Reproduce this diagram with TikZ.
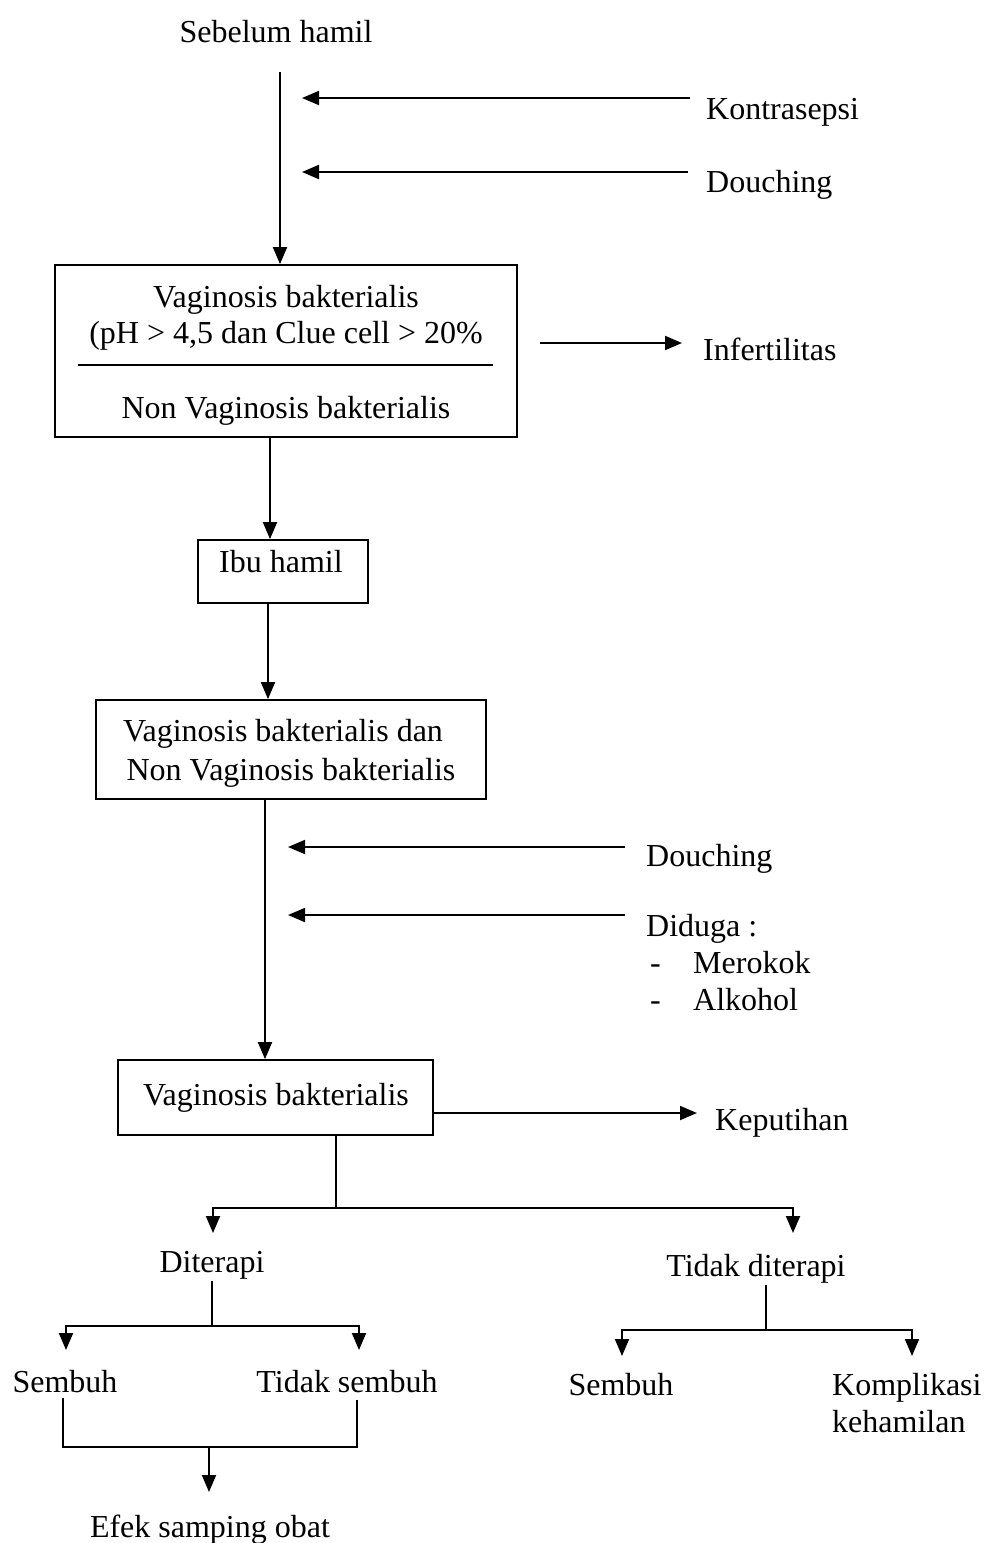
\documentclass[tikz,border=0pt]{standalone}
\usepackage{fontspec}
\setmainfont{Liberation Serif}
\usetikzlibrary{arrows.meta,calc}
\begin{document}
\begin{tikzpicture}[x=1pt,y=-1pt,
  txt/.style={font=\fontsize{32}{38}\selectfont, inner sep=0pt, anchor=base},
  ltxt/.style={txt, anchor=base west},
  box/.style={draw, line width=1.8pt, inner sep=0pt},
  ln/.style={line width=1.9pt},
  arr/.style={ln, -{Triangle[length=17pt,width=14pt]}}]
\useasboundingbox (0,0) rectangle (988,1543);
% top
\node[txt] (sh) at (276,42) {Sebelum hamil};
\coordinate (t0) at (280,72);
\node[ltxt] (kon) at (706,119) {Kontrasepsi};
\node[ltxt] (dou1) at (706,192) {Douching};
\coordinate (k0) at (690,98);
\coordinate (k1) at (302,98);
\coordinate (d0) at (688,172);
\coordinate (d1) at (302,172);
\draw[arr] (k0) -- (k1);
\draw[arr] (d0) -- (d1);
% box 1
\node[box, minimum width=462pt, minimum height=172pt] (b1) at (286,351) {};
\node[txt] (b1a) at (286,307) {Vaginosis bakterialis};
\node[txt] (b1b) at (286,343) {(pH > 4,5 dan Clue cell > 20\%};
\coordinate (dl0) at (78,365);
\coordinate (dl1) at (493,365);
\draw[ln] (dl0) -- (dl1);
\node[txt] (b1c) at (286,418) {Non Vaginosis bakterialis};
\draw[arr] (t0) -- (t0 |- b1.north);
\node[ltxt] (inf) at (703,360) {Infertilitas};
\coordinate (i0) at (540,343);
\coordinate (i1) at (682,343);
\draw[arr] (i0) -- (i1);
% ibu hamil
\node[box, minimum width=170pt, minimum height=63pt] (ih) at (283,571.5) {};
\node[txt] (iht) at (281,572) {Ibu hamil};
\coordinate (c1) at (270,0);
\draw[arr] (c1 |- b1.south) -- (c1 |- ih.north);
% box 3
\node[box, minimum width=390pt, minimum height=99pt] (b3) at (291,749.5) {};
\node[txt] (b3a) at (283,741) {Vaginosis bakterialis dan};
\node[txt] (b3b) at (291,780) {Non Vaginosis bakterialis};
\coordinate (c2) at (268,0);
\draw[arr] (c2 |- ih.south) -- (c2 |- b3.north);
% douching / diduga
\node[ltxt] (dou2) at (646,866) {Douching};
\node[ltxt] (dig) at (646,936) {Diduga :};
\node[ltxt] (m1) at (650,973) {-};
\node[ltxt] (mer) at (693,973) {Merokok};
\node[ltxt] (m2) at (650,1010) {-};
\node[ltxt] (alk) at (693,1010) {Alkohol};
\coordinate (e0) at (625,847);
\coordinate (e1) at (288,847);
\coordinate (f0) at (625,915);
\coordinate (f1) at (288,915);
\draw[arr] (e0) -- (e1);
\draw[arr] (f0) -- (f1);
% box 4
\node[box, minimum width=315pt, minimum height=75pt] (b4) at (275.5,1097.5) {};
\node[txt] (b4t) at (276,1105) {Vaginosis bakterialis};
\coordinate (c3) at (265,0);
\draw[arr] (c3 |- b3.south) -- (c3 |- b4.north);
\node[ltxt] (kep) at (715,1130) {Keputihan};
\coordinate (kp0) at (433,1113);
\coordinate (kp1) at (697,1113);
\draw[arr] (kp0) -- (kp1);
% split
\coordinate (s0) at (336,1208);
\coordinate (sl) at (213,1208);
\coordinate (sr) at (793,1208);
\node[txt] (dit) at (212,1272) {Diterapi};
\node[txt] (tdt) at (756,1276) {Tidak diterapi};
\draw[ln] (s0 |- b4.south) -- (s0);
\draw[arr] (sr) -- (sl) -- ++(0,25);
\draw[arr] (sl) -- (sr) -- ++(0,25);
% diterapi branch
\coordinate (g0) at (212,1326);
\coordinate (gl) at (66,1326);
\coordinate (gr) at (359,1326);
\draw[ln] (212,1281) -- (g0);
\draw[arr] (gr) -- (gl) -- ++(0,24);
\draw[arr] (gl) -- (gr) -- ++(0,24);
\node[txt] (sem1) at (65,1392) {Sembuh};
\node[txt] (tsem) at (347,1392) {Tidak sembuh};
\coordinate (h0) at (63,1398);
\coordinate (hl) at (63,1447);
\coordinate (hr) at (357,1447);
\coordinate (h1) at (357,1400);
\coordinate (hm) at (209,1447);
\draw[ln] (h0) -- (hl) -- (hr) -- (h1);
\node[txt] (efk) at (210,1537) {Efek samping obat};
\draw[arr] (hm) -- (209,1492);
% tidak diterapi branch
\coordinate (j0) at (766,1330);
\coordinate (jl) at (622,1330);
\coordinate (jr) at (912,1330);
\draw[ln] (766,1285) -- (j0);
\draw[arr] (jr) -- (jl) -- ++(0,26);
\draw[arr] (jl) -- (jr) -- ++(0,26);
\node[txt] (sem2) at (621,1395) {Sembuh};
\node[ltxt] (kom) at (832,1395) {Komplikasi};
\node[ltxt] (keh) at (832,1432) {kehamilan};
\end{tikzpicture}
\end{document}
